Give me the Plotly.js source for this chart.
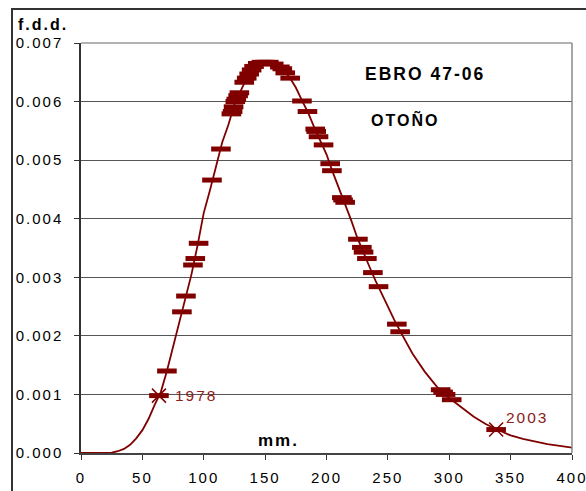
<!DOCTYPE html>
<html>
<head>
<meta charset="utf-8">
<script src="https://cdn.plot.ly/plotly-3.0.1.min.js"></script>
<style>
html,body{margin:0;padding:0;background:#fff;}
#chart{width:586px;height:491px;}
#chart svg text{letter-spacing:2px;}
</style>
</head>
<body>
<div id="chart"></div>
<script>
// Fitted density curve
const curveX = [0,10,20,25,30,35,40,45,50,55,60,65,70,75,80,85,90,95,100,105,110,115,120,125,130,135,140,145,150,155,160,165,170,175,180,185,190,195,200,205,210,215,220,225,230,235,240,245,250,255,260,270,280,290,300,310,320,330,340,350,360,370,380,390,400];
const curveY = [0,0,0,0.000005,0.00003,0.00007,0.00014,0.00025,0.00039,0.00058,0.00082,0.00104,0.0014,0.0018,0.00225,0.00265,0.00305,0.00355,0.0041,0.00448,0.0049,0.0053,0.0056,0.00595,0.00618,0.0064,0.00656,0.00664,0.00667,0.00666,0.00662,0.00654,0.00641,0.00624,0.00602,0.00581,0.00556,0.00533,0.0051,0.0048,0.00453,0.00426,0.00398,0.00368,0.00342,0.00318,0.00294,0.00271,0.00249,0.00228,0.00208,0.0017,0.00139,0.00113,0.00094,0.00078,0.00062,0.00049,0.00039,0.0003,0.00024,0.00019,0.00015,0.00012,0.00009];

// Observed autumn values placed on the curve
const obsX = [63.5,70,82.2,85.5,91.2,93.1,95.8,106.7,114,122.5,123.5,124.3,125.7,126.5,128,129,133,135,137,139,141,144,147,150,153,157,162,164,166.4,170.4,180,184.5,190.8,191.6,193.5,197.6,203,204.4,212.5,213.5,215.2,225.6,228.8,230.2,232.9,237.8,242.4,257.3,260,293,295,297,302,338.2];
const obsY = [0.00098,0.0014,0.00241,0.00268,0.00321,0.00332,0.00358,0.00466,0.00519,0.00579,0.00583,0.00591,0.0060,0.00604,0.0061,0.00615,0.00633,0.0064,0.00647,0.00654,0.0066,0.00665,0.00667,0.00667,0.00667,0.00664,0.00659,0.00656,0.00649,0.0064,0.00601,0.00583,0.00553,0.00549,0.0054,0.00526,0.00494,0.00482,0.00436,0.00432,0.00428,0.00365,0.00351,0.00343,0.00332,0.00308,0.00284,0.0022,0.00207,0.00108,0.00104,0.001,0.00091,0.0004];

// Highlighted years
const hiX = [63.5,338.2];
const hiY = [0.00098,0.0004];
const hiLabels = ['1978','2003'];

const xTicks = [0,50,100,150,200,250,300,350,400];
const yTicks = [0,0.001,0.002,0.003,0.004,0.005,0.006,0.007];

const red = '#800000';
const font = 'Liberation Sans, Arial, sans-serif';

const traces = [
  {x: curveX, y: curveY, mode: 'lines', line: {color: red, width: 1.8}, hoverinfo: 'skip'},
  {x: obsX, y: obsY, mode: 'markers', marker: {symbol: 'line-ew-open', size: 14, color: red, line: {color: red, width: 5}}},
  {x: hiX, y: hiY, mode: 'markers', marker: {symbol: 'x-thin-open', size: 14, color: red, line: {color: red, width: 1.5}}}
];

const PW = 491, PH = 410;

const annotations = [
  {text: '<b>EBRO 47-06</b>', xref: 'x', yref: 'y', x: 238, y: 0.00647, xanchor: 'left', yanchor: 'middle', showarrow: false, font: {family: font, size: 17.5, color: '#000'}},
  {text: '<b>OTOÑO</b>', xref: 'x', yref: 'y', x: 239, y: 0.00569, xanchor: 'left', yanchor: 'middle', showarrow: false, font: {family: font, size: 16, color: '#000'}},
  {text: '<b>f.d.d.</b>', xref: 'paper', yref: 'paper', x: -0.12, y: 1.046, xanchor: 'left', yanchor: 'middle', showarrow: false, font: {family: font, size: 16, color: '#000'}},
  {text: '<b>mm.</b>', xref: 'x', yref: 'y', x: 145, y: 0.00022, xanchor: 'left', yanchor: 'middle', showarrow: false, font: {family: font, size: 17, color: '#000'}},
  {text: hiLabels[0], xref: 'x', yref: 'y', x: hiX[0] + 15, y: hiY[0], xanchor: 'left', yanchor: 'middle', showarrow: false, font: {family: font, size: 15.5, color: '#8b2020'}},
  {text: hiLabels[1], xref: 'x', yref: 'y', x: hiX[1] + 10, y: hiY[1] + 0.0002, xanchor: 'left', yanchor: 'middle', showarrow: false, font: {family: font, size: 15.5, color: '#8b2020'}}
];

const layout = {
  width: 586, height: 491,
  margin: {l: 81, r: 14, t: 43, b: 38},
  showlegend: false,
  font: {family: font, size: 15, color: '#000'},
  xaxis: {
    range: [0, 400], tickvals: xTicks, ticktext: xTicks.map(String),
    ticks: 'outside', ticklen: 5, tickcolor: '#333', tickwidth: 1,
    showgrid: false, zeroline: false, showline: true, linecolor: '#444', linewidth: 1.5,
    tickfont: {family: font, size: 15, color: '#000'}, ticklabelstandoff: 5
  },
  yaxis: {
    range: [0, 0.007], tickvals: yTicks, ticktext: yTicks.map(v => v.toFixed(3)),
    ticks: 'outside', ticklen: 5, tickcolor: '#333', tickwidth: 1,
    showgrid: true, gridcolor: '#555', gridwidth: 1, zeroline: false,
    showline: true, linecolor: '#333', linewidth: 1.5,
    tickfont: {family: font, size: 15, color: '#000'}, ticklabelstandoff: 8
  },
  shapes: [
    {type: 'rect', xref: 'paper', yref: 'paper', x0: (12 - 81) / PW, x1: 1.12, y0: -0.2, y1: (453 - 9) / PH, line: {color: '#333', width: 2}},
    {type: 'line', xref: 'paper', yref: 'paper', x0: 0, x1: 1, y0: 1, y1: 1, line: {color: '#999', width: 1.5}},
    {type: 'line', xref: 'paper', yref: 'paper', x0: 1, x1: 1, y0: 0, y1: 1, line: {color: '#888', width: 1.5}}
  ],
  annotations: annotations
};

Plotly.newPlot('chart', traces, layout, {displayModeBar: false});
</script>
</body>
</html>
